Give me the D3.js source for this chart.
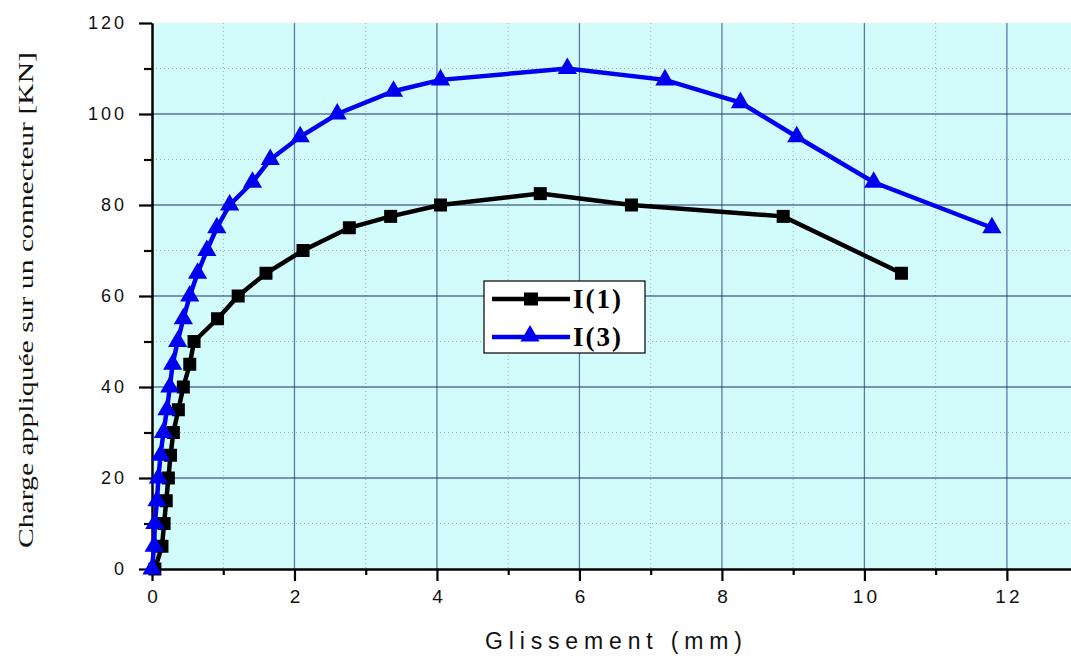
<!DOCTYPE html>
<html>
<head>
<meta charset="utf-8">
<script src="https://cdn.jsdelivr.net/npm/d3@7"></script>
<style>
  body { margin:0; background:#fff; }
  svg { display:block; }
</style>
</head>
<body>
<svg id="chart" width="1071" height="656"></svg>
<script>
// slip (mm) / load (kN)
const i1Slip = [0.04,0.14,0.17,0.2,0.23,0.26,0.3,0.37,0.44,0.53,0.59,0.92,1.21,1.6,2.12,2.77,3.35,4.05,5.45,6.73,8.86,10.52];
const i1Load = [0,5,10,15,20,25,30,35,40,45,50,55,60,65,70,75,77.5,80,82.5,80,77.5,65];
const i3Slip = [0,0.03,0.04,0.07,0.09,0.12,0.16,0.21,0.25,0.29,0.36,0.44,0.53,0.64,0.77,0.91,1.09,1.41,1.66,2.08,2.6,3.39,4.05,5.83,7.2,8.26,9.05,10.13,11.79];
const i3Load = [0,5,10,15,20,25,30,35,40,45,50,55,60,65,70,75,80,85,90,95,100,105,107.5,110,107.5,102.5,95,85,75];
const xTicks = [0,2,4,6,8,10,12];
const yTicks = [0,20,40,60,80,100,120];
const xMinor = [1,3,5,7,9,11];
const yMinor = [10,30,50,70,90,110];

const svg=d3.select('#chart');
const pLeft=152, pRight=1071, pTop=23, pBottom=569;
const x=d3.scaleLinear().domain([0,12.9]).range([pLeft,pRight]);
const y=d3.scaleLinear().domain([0,120]).range([pBottom,pTop]);

svg.append('rect').attr('x',pLeft).attr('y',pTop).attr('width',pRight-pLeft).attr('height',pBottom-pTop)
   .attr('fill','#d2fcfc');

let grid=svg.append('g');
// minor dotted grid
grid.selectAll('line.mx').data(xMinor).join('line')
    .attr('class','mx')
    .attr('x1',d=>x(d)).attr('x2',d=>x(d)).attr('y1',pTop).attr('y2',pBottom)
    .attr('stroke','#8fb3a8').attr('stroke-width',1).attr('stroke-dasharray','1,3');
grid.selectAll('line.my').data(yMinor).join('line')
    .attr('class','my')
    .attr('x1',pLeft).attr('x2',pRight).attr('y1',d=>y(d)).attr('y2',d=>y(d))
    .attr('stroke','#8fb3a8').attr('stroke-width',1).attr('stroke-dasharray','1,3');
// major grid
grid.selectAll('line.gx').data(xTicks.filter(d=>d>0)).join('line')
    .attr('class','gx')
    .attr('x1',d=>x(d)).attr('x2',d=>x(d)).attr('y1',pTop).attr('y2',pBottom)
    .attr('stroke','#5b79a6').attr('stroke-width',1.3);
grid.selectAll('line.gy').data(yTicks.filter(d=>d>0 && d<120)).join('line')
    .attr('class','gy')
    .attr('x1',pLeft).attr('x2',pRight).attr('y1',d=>y(d)).attr('y2',d=>y(d))
    .attr('stroke','#1c2f6b').attr('stroke-width',1.2);

// axes
const xAxis=d3.axisBottom(x).tickValues(xTicks).tickSize(12).tickSizeOuter(0).tickPadding(9).tickFormat(d3.format('d'));
const xAxisMinor=d3.axisBottom(x).tickValues(xMinor).tickSize(6).tickSizeOuter(0).tickFormat('');
const yAxis=d3.axisLeft(y).tickValues(yTicks).tickSize(13).tickSizeOuter(0).tickPadding(12).tickFormat(d3.format('d'));
const yAxisMinor=d3.axisLeft(y).tickValues(yMinor).tickSize(8).tickSizeOuter(0).tickFormat('');

function styleAxis(g,fs,anchorShift) {
    g.select('.domain').attr('stroke','#000').attr('stroke-width',2);
    g.selectAll('.tick line').attr('stroke','#000').attr('stroke-width',2.2);
    g.selectAll('.tick text').attr('fill','#111')
     .style('font-family','"Liberation Sans", Arial, sans-serif').style('font-size',fs+'px')
     .style('letter-spacing','3px').attr('dx',anchorShift);
}
svg.append('g').attr('transform',`translate(0,${pBottom})`).call(xAxisMinor).call(styleAxis,19,1.5);
svg.append('g').attr('transform',`translate(0,${pBottom})`).call(xAxis).call(styleAxis,19,1.5);
svg.append('g').attr('transform',`translate(${pLeft},0)`).call(yAxisMinor).call(styleAxis,18,0);
svg.append('g').attr('transform',`translate(${pLeft},0)`).call(yAxis).call(styleAxis,18,0);

// series
const line=d3.line().x(d=>x(d[0])).y(d=>y(d[1]));
const s1=i1Slip.map((v,i)=>[v,i1Load[i]]);
const s3=i3Slip.map((v,i)=>[v,i3Load[i]]);
const plot=svg.append('g');
plot.append('path').datum(s1).attr('d',line).attr('fill','none').attr('stroke','#000').attr('stroke-width',4.5);
plot.selectAll('rect.sq').data(s1).join('rect').attr('class','sq')
    .attr('x',d=>x(d[0])-6.5).attr('y',d=>y(d[1])-6.5).attr('width',13).attr('height',13).attr('fill','#000');
plot.append('path').datum(s3).attr('d',line).attr('fill','none').attr('stroke','#0000f0').attr('stroke-width',4.5);
const tri=d3.symbol().type(d3.symbolTriangle).size(160);
plot.selectAll('path.tr').data(s3).join('path').attr('class','tr')
    .attr('d',tri).attr('transform',d=>`translate(${x(d[0])},${y(d[1])})`).attr('fill','#0000f0');

// legend
const leg=svg.append('g').attr('transform','translate(484,281)');
leg.append('rect').attr('width',161).attr('height',72).attr('fill','#fff').attr('stroke','#000').attr('stroke-width',1.2);
const legItems=[{name:'I(1)',color:'#000',sym:'sq'},{name:'I(3)',color:'#0000f0',sym:'tr'}];
legItems.forEach((it,i)=>{
    const yy=18+i*38;
    leg.append('line').attr('x1',8).attr('x2',86).attr('y1',yy).attr('y2',yy).attr('stroke',it.color).attr('stroke-width',4.5);
    if (it.sym==='sq') leg.append('rect').attr('x',40).attr('y',yy-6.5).attr('width',14).attr('height',13).attr('fill',it.color);
    else leg.append('path').attr('d',tri).attr('transform',`translate(46,${yy-1})`).attr('fill',it.color);
    leg.append('text').attr('x',89).attr('y',yy+9).text(it.name)
       .style('font-family','"Liberation Serif", "Times New Roman", serif').style('font-weight','bold')
       .style('font-size','27px').style('letter-spacing','2px');
});

// axis titles
svg.append('text').attr('x',485).attr('y',649).attr('textLength',257).attr('lengthAdjust','spacing').text('Glissement (mm)')
   .style('font-family','"Liberation Sans", Arial, sans-serif').style('font-size','23px').attr('fill','#111');
svg.append('text').attr('transform','translate(33,548) rotate(-90)').attr('textLength',496).attr('lengthAdjust','spacingAndGlyphs')
   .text('Charge appliquée sur un connecteur [KN]')
   .style('font-family','"Liberation Serif", "Times New Roman", serif').style('font-size','22px').attr('fill','#111');
</script>
</body>
</html>
